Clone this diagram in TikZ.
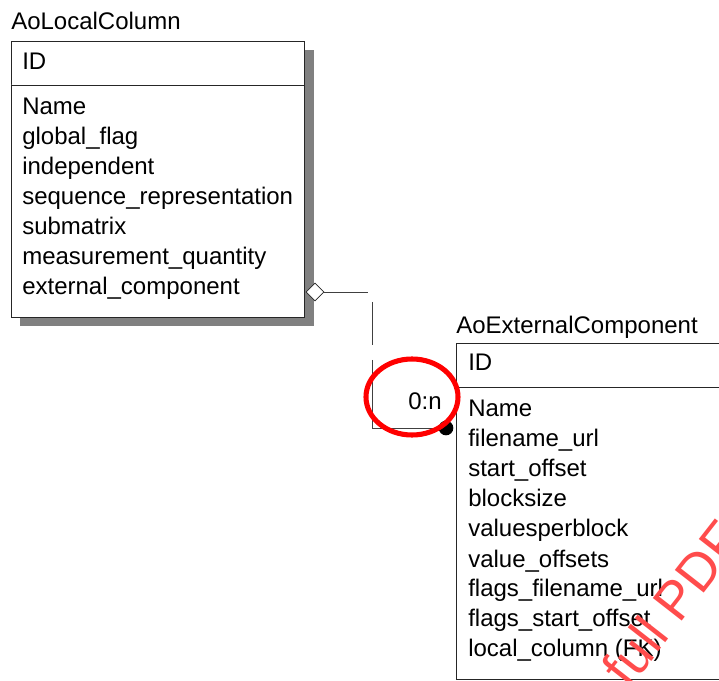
\documentclass[tikz,border=0pt]{standalone}
\usepackage{fontspec}
\setmainfont{Liberation Sans}
\usetikzlibrary{shapes.geometric,positioning}
\newcommand{\erfont}{\fontsize{18}{21}\selectfont}
\begin{document}
\begin{tikzpicture}[x=0.75pt,y=-0.75pt,
      ent/.style={draw=black!85, fill=white, line width=0.7pt},
      shade/.style={fill=black!50},
      ttl/.style={anchor=base west, inner sep=0pt, font=\erfont},
      fld/.style={anchor=base west, inner sep=0pt, font=\erfont},
      lnk/.style={draw=black!75, line width=0.7pt},
      agg/.style={diamond, draw=black!85, fill=white, line width=0.6pt,
                  minimum width=13.5pt, minimum height=13.5pt, inner sep=0pt},
      dot/.style={circle, fill=black, minimum size=11pt, inner sep=0pt},
      hilite/.style={draw=red, line width=3.8pt}
  ]
    \clip (0,0) rectangle (719,681);
    \useasboundingbox (0,0) rectangle (719,681);
    % AoLocalColumn
    \fill[shade] (20,50) rectangle (314,326);
    \draw[ent] (11,41) rectangle (304,317);
    \draw[ent] (11,85) -- (304,85);
    \node[ttl] (lct) at (11,30) {AoLocalColumn};
    \node[fld] (lid) at (22,70) {ID};
    \node[fld] (lnm) at (22,115) {Name};
    \node[fld] (lgf) at (22,145) {global\_flag};
    \node[fld] (lin) at (22,175) {independent};
    \node[fld] (lsr) at (22,205) {sequence\_representation};
    \node[fld] (lsm) at (22,235) {submatrix};
    \node[fld] (lmq) at (22,265) {measurement\_quantity};
    \node[fld] (lec) at (22,295) {external\_component};
    % AoExternalComponent
    \draw[ent] (456,343) rectangle (740,679);
    \draw[ent] (456,387) -- (740,387);
    \node[ttl] (ect) at (456,334) {AoExternalComponent};
    \node[fld] (eid) at (468,371) {ID};
    \node[fld] (enm) at (468,417) {Name};
    \node[fld] (efu) at (468,447) {filename\_url};
    \node[fld] (eso) at (468,477) {start\_offset};
    \node[fld] (ebs) at (468,507) {blocksize};
    \node[fld] (evb) at (468,537) {valuesperblock};
    \node[fld] (evo) at (468,567) {value\_offsets};
    \node[fld] (eff) at (468,597) {flags\_filename\_url};
    \node[fld] (efs) at (468,627) {flags\_start\_offset};
    \node[fld] (elc) at (468,657) {local\_column (FK)};
    % relation
    \node[agg] (dia) at (315,292) {};
    \node[dot] (end) at (446,428) {};
    \coordinate (c1) at (368,292);
    \coordinate (c2) at (372,302);
    \coordinate (c3) at (372,345);
    \coordinate (c4) at (372,360);
    \coordinate (c5) at (372,428);
    \draw[lnk] (dia.east) -- (c1);
    \draw[lnk] (c2) -- (c3);
    \draw[lnk] (c4) -- (c5) -- (end);
    \node[fld] (card) at (408,410) {0:n};
    \draw[hilite] (412,397) ellipse (46 and 38);
    % watermark
    \node[font=\fontsize{40}{46}\selectfont, text=red!70, rotate=52,
          anchor=base west, inner sep=0pt]
      (wm) at (574,760) {the full PDF};
  \end{tikzpicture}
\end{document}
